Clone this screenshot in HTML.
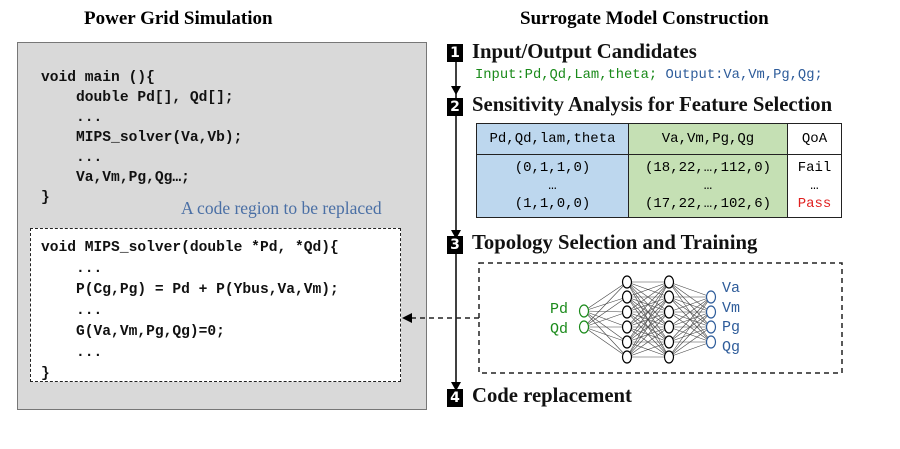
<!DOCTYPE html>
<html><head><meta charset="utf-8"><style>
body{margin:0;width:900px;height:449px;background:#fff;position:relative;overflow:hidden;font-family:"Liberation Serif",serif}
.a{position:absolute;white-space:pre}
.t{font-weight:bold;font-size:19px}
.m{font-family:"Liberation Mono",monospace;font-weight:bold;font-size:14.6px;color:#111}
.n{font-family:"Liberation Mono",monospace;font-size:13.8px}
.h{font-family:"Liberation Serif",serif;font-weight:bold;font-size:20.7px;color:#111}
.c{position:absolute;width:16px;height:18px;background:#000;color:#fff;font-size:14px;text-align:center;line-height:18px;font-family:"DejaVu Sans",sans-serif;font-weight:bold}
td{border:1.5px solid #222;text-align:center;font-family:"Liberation Mono",monospace;font-size:14px;padding:0}
</style></head><body>
<div class="a t" style="left:84px;top:8px">Power Grid Simulation</div>
<div class="a t" style="left:520px;top:8px">Surrogate Model Construction</div>
<div class="a" style="left:17px;top:42px;width:408px;height:366px;background:#d9d9d9;border:1.5px solid #777"></div>
<div class="a m" style="left:41px;top:68px;line-height:20px">void main (){
    double Pd[], Qd[];
    ...
    MIPS_solver(Va,Vb);
    ...
    Va,Vm,Pg,Qg…;
}</div>
<div class="a" style="left:181px;top:198px;font-size:17.5px;color:#4a6fa5">A code region to be replaced</div>
<div class="a" style="left:30px;top:228px;width:369px;height:152px;background:#fff;border:1.5px dashed #222"></div>
<div class="a m" style="left:41px;top:238px;line-height:21px">void MIPS_solver(double *Pd, *Qd){
    ...
    P(Cg,Pg) = Pd + P(Ybus,Va,Vm);
    ...
    G(Va,Vm,Pg,Qg)=0;
    ...
}</div>
<svg class="a" style="left:0;top:0" width="900" height="449">
<line x1="456" y1="62" x2="456" y2="386" stroke="#000" stroke-width="1.5"/>
<polygon points="451,86 461,86 456,95" fill="#000"/>
<polygon points="451,230 461,230 456,239" fill="#000"/>
<polygon points="451,382 461,382 456,391" fill="#000"/>
<rect x="479" y="263" width="363" height="110" fill="none" stroke="#222" stroke-width="1.5" stroke-dasharray="5,4"/>
<polyline points="479,318 412,318" fill="none" stroke="#222" stroke-width="1.5" stroke-dasharray="5,4"/>
<polygon points="402,318 412,313 412,323" fill="#000"/>
<g stroke="#444" stroke-width="0.6" id="nn"></g>
</svg>
<div class="c" style="left:447px;top:44px">1</div>
<div class="c" style="left:447px;top:98px">2</div>
<div class="c" style="left:447px;top:236px">3</div>
<div class="c" style="left:447px;top:389px">4</div>
<div class="a h" style="left:472px;top:41px">Input/Output Candidates</div>
<div class="a n" style="left:475px;top:68px"><span style="color:#1a8a1a">Input:Pd,Qd,Lam,theta;</span> <span style="color:#2e5c9a">Output:Va,Vm,Pg,Qg;</span></div>
<div class="a h" style="left:472px;top:94px">Sensitivity Analysis for Feature Selection</div>
<table class="a" style="left:476px;top:123px;border-collapse:collapse;width:366px;height:95px">
<tr style="height:31px"><td style="background:#bdd7ee;width:151px">Pd,Qd,lam,theta</td><td style="background:#c5e0b4;width:158px">Va,Vm,Pg,Qg</td><td>QoA</td></tr>
<tr><td style="background:#bdd7ee;line-height:18px">(0,1,1,0)<br>…<br>(1,1,0,0)</td><td style="background:#c5e0b4;line-height:18px">(18,22,…,112,0)<br>…<br>(17,22,…,102,6)</td><td style="line-height:18px">Fail<br>…<br><span style="color:#e02020">Pass</span></td></tr>
</table>
<div class="a h" style="left:472px;top:232px">Topology Selection and Training</div>
<div class="a h" style="left:472px;top:385px">Code replacement</div>
<div class="a n" style="left:550px;top:300px;color:#1a8a1a;font-size:15px;line-height:20px">Pd
Qd</div>
<div class="a n" style="left:722px;top:279px;color:#2e5c9a;font-size:15px;line-height:19.5px">Va
Vm
Pg
Qg</div>
<script>
var g=document.getElementById('nn'),L=[[584,[311,327]],[627,[282,297,312,327,342,357]],[669,[282,297,312,327,342,357]],[711,[297,312,327,342]]],s='';
for(var i=0;i<3;i++)for(var a of L[i][1])for(var b of L[i+1][1])s+='<line x1="'+L[i][0]+'" y1="'+a+'" x2="'+L[i+1][0]+'" y2="'+b+'"/>';
L.forEach(function(l,i){var col=i==0?'#1a8a1a':i==3?'#2e5c9a':'#000';l[1].forEach(function(y){s+='<ellipse cx="'+l[0]+'" cy="'+y+'" rx="4.5" ry="6" fill="#fff" stroke="'+col+'" stroke-width="1.2"/>'})});
g.innerHTML=s;
</script>
</body></html>
